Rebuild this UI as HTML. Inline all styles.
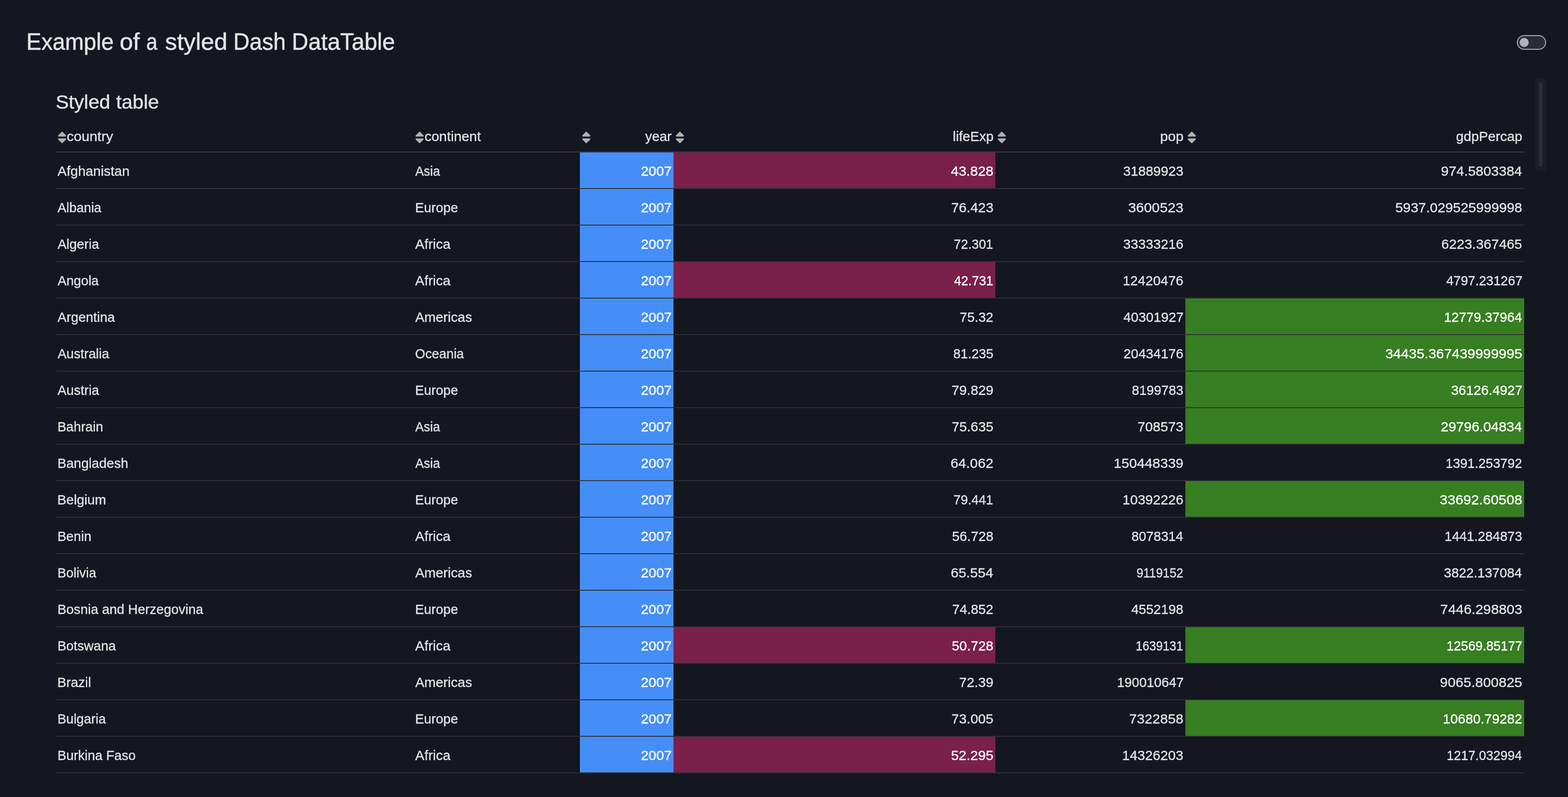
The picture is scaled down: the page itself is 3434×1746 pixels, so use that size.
<!DOCTYPE html>
<html lang="en">
<head>
<meta charset="utf-8">
<title>Example of a styled Dash DataTable</title>
<style>
html{font-size:calc(100vw / 34.34);}
html,body{margin:0;padding:0;}
body{width:34.34rem;height:17.46rem;overflow:hidden;background:#141720;color:#e3e3e4;
 font-family:"Liberation Sans",sans-serif;position:relative;-webkit-text-stroke:0.004rem;}
h1,h2{margin:0;font-weight:400;white-space:nowrap;position:absolute;left:0;width:12rem;}
h1{top:0.606rem;height:0.6rem;font-size:0.52rem;line-height:0.6rem;-webkit-text-stroke:0.006rem;}
h2{top:1.986rem;height:0.5rem;font-size:0.425rem;line-height:0.5rem;-webkit-text-stroke:0.005rem;}
span{position:absolute;top:0;white-space:pre;transform-origin:0 50%;}
.switch{position:absolute;left:33.22rem;top:0.77rem;width:0.64rem;height:0.32rem;box-sizing:border-box;border:0.02rem solid #b2b2b8;border-radius:0.16rem;background:#2b2d36;}
.switch i{position:absolute;left:0.04rem;top:0.04rem;width:0.2rem;height:0.2rem;border-radius:50%;background:#b0b1b5;}
.sbar{position:absolute;left:33.62rem;top:1.72rem;width:0.24rem;height:2.01rem;background:#1b1d27;}
.sbar i{position:absolute;left:0.08rem;top:0.08rem;width:0.08rem;height:1.85rem;background:#2c2e36;}
table,thead,tbody{display:block;margin:0;padding:0;border:0;}
table{font-size:0.3rem;}
tr{display:block;position:absolute;left:1.22rem;width:32.16rem;height:0.8rem;}
th,td{display:block;position:absolute;top:0;box-sizing:border-box;height:0.8rem;padding:0;border-bottom:0.02rem solid #2e3039;white-space:nowrap;font-weight:400;text-align:left;}
th{height:0.76rem;border-bottom-color:#393c46;}
th:nth-child(1),td:nth-child(1){left:0rem;width:7.833rem;}
th:nth-child(2),td:nth-child(2){left:7.833rem;width:3.647rem;}
th:nth-child(3),td:nth-child(3){left:11.48rem;width:2.05rem;}
th:nth-child(4),td:nth-child(4){left:13.53rem;width:7.05rem;}
th:nth-child(5),td:nth-child(5){left:20.58rem;width:4.16rem;}
th:nth-child(6),td:nth-child(6){left:24.74rem;width:7.42rem;}
td span{top:0.016rem;line-height:0.78rem;}
th span{top:0.036rem;line-height:0.74rem;}
td.b{background:#458ef7;color:#fff;}
td.m{background:#7a204a;color:#fff;}
td.g{background:#377e22;color:#fff;}
svg{position:absolute;left:0.04rem;top:0.2695rem;width:0.2rem;height:0.3243rem;fill:#b0b0b0;}

</style>
</head>
<body>
<h1><span style="left:0.57rem;transform:translateX(0.0087rem) scaleX(0.9449)">Example</span> <span style="left:2.62rem;transform:translateX(0.0003rem) scaleX(1.0138)">of</span> <span style="left:3.2rem;transform:translateX(0.0021rem) scaleX(0.8453)">a</span> <span style="left:3.61rem;transform:translateX(0.0062rem) scaleX(1.0053)">styled</span> <span style="left:5.1rem;transform:translateX(0.0092rem) scaleX(0.9478)">Dash</span> <span style="left:6.39rem;transform:translateX(0.0004rem) scaleX(0.9656)">DataTable</span></h1>
<div class="switch"><i></i></div>
<div class="sbar"><i></i></div>
<h2><span style="left:1.21rem;transform:translateX(0.009rem) scaleX(1.0126)">Styled</span> <span style="left:2.54rem;transform:translateX(0.0016rem) scaleX(1.0204)">table</span></h2>
<table>
<thead><tr style="top:2.58rem">
<th><svg viewBox="0 0 320 512" preserveAspectRatio="none"><path d="M41 288h238c21.4 0 32.1 25.9 17 41L177 448c-9.4 9.4-24.6 9.4-33.9 0L24 329c-15.1-15.1-4.4-41 17-41zm255-105L177 64c-9.4-9.4-24.6-9.4-33.9 0L24 183c-15.1 15.1-4.4 41 17 41h238c21.4 0 32.1-25.9 17-41z"/></svg><span style="left:0.24rem;transform:translateX(0.0012rem) scaleX(1.0330)">country</span></th>
<th><svg viewBox="0 0 320 512" preserveAspectRatio="none"><path d="M41 288h238c21.4 0 32.1 25.9 17 41L177 448c-9.4 9.4-24.6 9.4-33.9 0L24 329c-15.1-15.1-4.4-41 17-41zm255-105L177 64c-9.4-9.4-24.6-9.4-33.9 0L24 183c-15.1 15.1-4.4 41 17 41h238c21.4 0 32.1-25.9 17-41z"/></svg><span style="left:0.24rem;transform:translateX(0.0068rem) scaleX(1.0147)">continent</span></th>
<th><svg viewBox="0 0 320 512" preserveAspectRatio="none"><path d="M41 288h238c21.4 0 32.1 25.9 17 41L177 448c-9.4 9.4-24.6 9.4-33.9 0L24 329c-15.1-15.1-4.4-41 17-41zm255-105L177 64c-9.4-9.4-24.6-9.4-33.9 0L24 183c-15.1 15.1-4.4 41 17 41h238c21.4 0 32.1-25.9 17-41z"/></svg><span style="left:1.43rem;transform:translateX(0.0009rem) scaleX(0.9901)">year</span></th>
<th><svg viewBox="0 0 320 512" preserveAspectRatio="none"><path d="M41 288h238c21.4 0 32.1 25.9 17 41L177 448c-9.4 9.4-24.6 9.4-33.9 0L24 329c-15.1-15.1-4.4-41 17-41zm255-105L177 64c-9.4-9.4-24.6-9.4-33.9 0L24 183c-15.1 15.1-4.4 41 17 41h238c21.4 0 32.1-25.9 17-41z"/></svg><span style="left:6.11rem;transform:translateX(0.0087rem) scaleX(0.9897)">lifeExp</span></th>
<th><svg viewBox="0 0 320 512" preserveAspectRatio="none"><path d="M41 288h238c21.4 0 32.1 25.9 17 41L177 448c-9.4 9.4-24.6 9.4-33.9 0L24 329c-15.1-15.1-4.4-41 17-41zm255-105L177 64c-9.4-9.4-24.6-9.4-33.9 0L24 183c-15.1 15.1-4.4 41 17 41h238c21.4 0 32.1-25.9 17-41z"/></svg><span style="left:3.6rem;transform:translateX(0.0069rem) scaleX(1.0263)">pop</span></th>
<th><svg viewBox="0 0 320 512" preserveAspectRatio="none"><path d="M41 288h238c21.4 0 32.1 25.9 17 41L177 448c-9.4 9.4-24.6 9.4-33.9 0L24 329c-15.1-15.1-4.4-41 17-41zm255-105L177 64c-9.4-9.4-24.6-9.4-33.9 0L24 183c-15.1 15.1-4.4 41 17 41h238c21.4 0 32.1-25.9 17-41z"/></svg><span style="left:5.92rem;transform:translateX(0.0079rem) scaleX(1.0003)">gdpPercap</span></th>
</tr></thead>
<tbody>
<tr style="top:3.34rem">
<td><span style="left:0.04rem;transform:translateX(0.0012rem) scaleX(0.9948)">Afghanistan</span></td>
<td><span style="left:0.04rem;transform:translateX(0.0041rem) scaleX(0.9319)">Asia</span></td>
<td class="b"><span style="left:1.33rem;transform:translateX(0.0038rem) scaleX(1.0181)">2007</span></td>
<td class="m"><span style="left:6.07rem;transform:translateX(0.0043rem) scaleX(1.0167)">43.828</span></td>
<td><span style="left:2.79rem;transform:translateX(0.0065rem) scaleX(0.9898)">31889923</span></td>
<td><span style="left:5.59rem;transform:translateX(0.0075rem) scaleX(1.0132)">974.5803384</span></td>
</tr>
<tr style="top:4.14rem">
<td><span style="left:0.04rem;transform:translateX(0.0012rem) scaleX(0.9581)">Albania</span></td>
<td><span style="left:0.03rem;transform:translateX(0.0092rem) scaleX(0.9742)">Europe</span></td>
<td class="b"><span style="left:1.33rem;transform:translateX(0.0038rem) scaleX(1.0181)">2007</span></td>
<td><span style="left:6.08rem;transform:translateX(0.0014rem) scaleX(1.0092)">76.423</span></td>
<td><span style="left:2.9rem;transform:translateX(0.0064rem) scaleX(1.0377)">3600523</span></td>
<td><span style="left:4.59rem;transform:translateX(0.0078rem) scaleX(1.0096)">5937.029525999998</span></td>
</tr>
<tr style="top:4.94rem">
<td><span style="left:0.04rem;transform:translateX(0.0013rem) scaleX(0.9728)">Algeria</span></td>
<td><span style="left:0.04rem;transform:translateX(0.0037rem) scaleX(1.0083)">Africa</span></td>
<td class="b"><span style="left:1.33rem;transform:translateX(0.0038rem) scaleX(1.0181)">2007</span></td>
<td><span style="left:6.13rem;transform:translateX(0.0075rem) scaleX(0.9404)">72.301</span></td>
<td><span style="left:2.79rem;transform:translateX(0.0074rem) scaleX(0.9884)">33333216</span></td>
<td><span style="left:5.6rem;transform:translateX(0.0062rem) scaleX(1.0094)">6223.367465</span></td>
</tr>
<tr style="top:5.74rem">
<td><span style="left:0.04rem;transform:translateX(0.0013rem) scaleX(0.9641)">Angola</span></td>
<td><span style="left:0.04rem;transform:translateX(0.0037rem) scaleX(1.0083)">Africa</span></td>
<td class="b"><span style="left:1.33rem;transform:translateX(0.0038rem) scaleX(1.0181)">2007</span></td>
<td class="m"><span style="left:6.14rem;transform:translateX(0.0053rem) scaleX(0.9315)">42.731</span></td>
<td><span style="left:2.78rem;transform:translateX(0.0074rem) scaleX(0.9959)">12420476</span></td>
<td><span style="left:5.71rem;transform:translateX(0.004rem) scaleX(0.9528)">4797.231267</span></td>
</tr>
<tr style="top:6.54rem">
<td><span style="left:0.04rem;transform:translateX(0.0012rem) scaleX(0.9761)">Argentina</span></td>
<td><span style="left:0.04rem;transform:translateX(0.004rem) scaleX(0.9954)">Americas</span></td>
<td class="b"><span style="left:1.33rem;transform:translateX(0.0038rem) scaleX(1.0181)">2007</span></td>
<td><span style="left:6.26rem;transform:translateX(0.0085rem) scaleX(0.9801)">75.32</span></td>
<td><span style="left:2.8rem;transform:translateX(0.0019rem) scaleX(0.9904)">40301927</span></td>
<td class="g"><span style="left:5.66rem;transform:translateX(0.0053rem) scaleX(0.9742)">12779.37964</span></td>
</tr>
<tr style="top:7.34rem">
<td><span style="left:0.04rem;transform:translateX(0.0013rem) scaleX(0.9681)">Australia</span></td>
<td><span style="left:0.04rem;transform:translateX(0.0011rem) scaleX(0.9566)">Oceania</span></td>
<td class="b"><span style="left:1.33rem;transform:translateX(0.0038rem) scaleX(1.0181)">2007</span></td>
<td><span style="left:6.12rem;transform:translateX(0.0074rem) scaleX(0.9568)">81.235</span></td>
<td><span style="left:2.8rem;transform:translateX(0.0039rem) scaleX(0.9836)">20434176</span></td>
<td class="g"><span style="left:4.38rem;transform:translateX(0rem) scaleX(1.0262)">34435.367439999995</span></td>
</tr>
<tr style="top:8.14rem">
<td><span style="left:0.04rem;transform:translateX(0.0012rem) scaleX(0.9733)">Austria</span></td>
<td><span style="left:0.03rem;transform:translateX(0.0092rem) scaleX(0.9742)">Europe</span></td>
<td class="b"><span style="left:1.33rem;transform:translateX(0.0038rem) scaleX(1.0181)">2007</span></td>
<td><span style="left:6.08rem;transform:translateX(0.0093rem) scaleX(1.0015)">79.829</span></td>
<td><span style="left:2.98rem;transform:translateX(0.0076rem) scaleX(0.9672)">8199783</span></td>
<td class="g"><span style="left:5.81rem;transform:translateX(0.0091rem) scaleX(0.9862)">36126.4927</span></td>
</tr>
<tr style="top:8.94rem">
<td><span style="left:0.03rem;transform:translateX(0.0071rem) scaleX(0.9689)">Bahrain</span></td>
<td><span style="left:0.04rem;transform:translateX(0.0041rem) scaleX(0.9319)">Asia</span></td>
<td class="b"><span style="left:1.33rem;transform:translateX(0.0038rem) scaleX(1.0181)">2007</span></td>
<td><span style="left:6.09rem;transform:translateX(0.0044rem) scaleX(0.9928)">75.635</span></td>
<td><span style="left:3.11rem;transform:translateX(0.0024rem) scaleX(1.0033)">708573</span></td>
<td class="g"><span style="left:5.59rem;transform:translateX(0.002rem) scaleX(1.0165)">29796.04834</span></td>
</tr>
<tr style="top:9.74rem">
<td><span style="left:0.03rem;transform:translateX(0.0065rem) scaleX(0.9801)">Bangladesh</span></td>
<td><span style="left:0.04rem;transform:translateX(0.0041rem) scaleX(0.9319)">Asia</span></td>
<td class="b"><span style="left:1.33rem;transform:translateX(0.0038rem) scaleX(1.0181)">2007</span></td>
<td><span style="left:6.06rem;transform:translateX(0.0069rem) scaleX(1.0223)">64.062</span></td>
<td><span style="left:2.59rem;transform:translateX(0.0004rem) scaleX(1.0175)">150448339</span></td>
<td><span style="left:5.69rem;transform:translateX(0.0092rem) scaleX(0.9565)">1391.253792</span></td>
</tr>
<tr style="top:10.54rem">
<td><span style="left:0.03rem;transform:translateX(0.0057rem) scaleX(0.9841)">Belgium</span></td>
<td><span style="left:0.03rem;transform:translateX(0.0092rem) scaleX(0.9742)">Europe</span></td>
<td class="b"><span style="left:1.33rem;transform:translateX(0.0038rem) scaleX(1.0181)">2007</span></td>
<td><span style="left:6.13rem;transform:translateX(0.0012rem) scaleX(0.9472)">79.441</span></td>
<td><span style="left:2.78rem;transform:translateX(0.0032rem) scaleX(0.9992)">10392226</span></td>
<td class="g"><span style="left:5.57rem;transform:translateX(0.0007rem) scaleX(1.0313)">33692.60508</span></td>
</tr>
<tr style="top:11.34rem">
<td><span style="left:0.03rem;transform:translateX(0.0064rem) scaleX(0.9722)">Benin</span></td>
<td><span style="left:0.04rem;transform:translateX(0.0037rem) scaleX(1.0083)">Africa</span></td>
<td class="b"><span style="left:1.33rem;transform:translateX(0.0038rem) scaleX(1.0181)">2007</span></td>
<td><span style="left:6.1rem;transform:translateX(0.0003rem) scaleX(0.9872)">56.728</span></td>
<td><span style="left:2.97rem;transform:translateX(0.0088rem) scaleX(0.9704)">8078314</span></td>
<td><span style="left:5.67rem;transform:translateX(0.0083rem) scaleX(0.9695)">1441.284873</span></td>
</tr>
<tr style="top:12.14rem">
<td><span style="left:0.03rem;transform:translateX(0.0079rem) scaleX(0.9607)">Bolivia</span></td>
<td><span style="left:0.04rem;transform:translateX(0.004rem) scaleX(0.9954)">Americas</span></td>
<td class="b"><span style="left:1.33rem;transform:translateX(0.0038rem) scaleX(1.0181)">2007</span></td>
<td><span style="left:6.07rem;transform:translateX(0.0024rem) scaleX(1.0141)">65.554</span></td>
<td><span style="left:3.08rem;transform:translateX(0.0095rem) scaleX(0.8935)">9119152</span></td>
<td><span style="left:5.66rem;transform:translateX(0.0037rem) scaleX(0.9748)">3822.137084</span></td>
</tr>
<tr style="top:12.94rem">
<td><span style="left:0.03rem;transform:translateX(0.0069rem) scaleX(0.9770)">Bosnia and Herzegovina</span></td>
<td><span style="left:0.03rem;transform:translateX(0.0092rem) scaleX(0.9742)">Europe</span></td>
<td class="b"><span style="left:1.33rem;transform:translateX(0.0038rem) scaleX(1.0181)">2007</span></td>
<td><span style="left:6.1rem;transform:translateX(0.0029rem) scaleX(0.9817)">74.852</span></td>
<td><span style="left:2.97rem;transform:translateX(0.0038rem) scaleX(0.9787)">4552198</span></td>
<td><span style="left:5.58rem;transform:translateX(0.0037rem) scaleX(1.0242)">7446.298803</span></td>
</tr>
<tr style="top:13.74rem">
<td><span style="left:0.03rem;transform:translateX(0.0068rem) scaleX(0.9709)">Botswana</span></td>
<td><span style="left:0.04rem;transform:translateX(0.0037rem) scaleX(1.0083)">Africa</span></td>
<td class="b"><span style="left:1.33rem;transform:translateX(0.0038rem) scaleX(1.0181)">2007</span></td>
<td class="m"><span style="left:6.09rem;transform:translateX(0.0052rem) scaleX(0.9934)">50.728</span></td>
<td><span style="left:3.07rem;transform:translateX(0.0035rem) scaleX(0.8868)">1639131</span></td>
<td class="g"><span style="left:5.71rem;transform:translateX(0.009rem) scaleX(0.9488)">12569.85177</span></td>
</tr>
<tr style="top:14.54rem">
<td><span style="left:0.03rem;transform:translateX(0.0055rem) scaleX(0.9851)">Brazil</span></td>
<td><span style="left:0.04rem;transform:translateX(0.004rem) scaleX(0.9954)">Americas</span></td>
<td class="b"><span style="left:1.33rem;transform:translateX(0.0038rem) scaleX(1.0181)">2007</span></td>
<td><span style="left:6.25rem;transform:translateX(0.0062rem) scaleX(1.0008)">72.39</span></td>
<td><span style="left:2.66rem;transform:translateX(0.0013rem) scaleX(0.9740)">190010647</span></td>
<td><span style="left:5.57rem;transform:translateX(0.0047rem) scaleX(1.0290)">9065.800825</span></td>
</tr>
<tr style="top:15.34rem">
<td><span style="left:0.03rem;transform:translateX(0.0077rem) scaleX(0.9636)">Bulgaria</span></td>
<td><span style="left:0.03rem;transform:translateX(0.0092rem) scaleX(0.9742)">Europe</span></td>
<td class="b"><span style="left:1.33rem;transform:translateX(0.0038rem) scaleX(1.0181)">2007</span></td>
<td><span style="left:6.08rem;transform:translateX(0.0057rem) scaleX(1.0028)">73.005</span></td>
<td><span style="left:2.92rem;transform:translateX(0.0085rem) scaleX(1.0172)">7322858</span></td>
<td class="g"><span style="left:5.63rem;transform:translateX(0.0067rem) scaleX(0.9934)">10680.79282</span></td>
</tr>
<tr style="top:16.14rem">
<td><span style="left:0.03rem;transform:translateX(0.007rem) scaleX(0.9708)">Burkina Faso</span></td>
<td><span style="left:0.04rem;transform:translateX(0.0037rem) scaleX(1.0083)">Africa</span></td>
<td class="b"><span style="left:1.33rem;transform:translateX(0.0038rem) scaleX(1.0181)">2007</span></td>
<td class="m"><span style="left:6.07rem;transform:translateX(0.0069rem) scaleX(1.0137)">52.295</span></td>
<td><span style="left:2.77rem;transform:translateX(0.0038rem) scaleX(1.0057)">14326203</span></td>
<td><span style="left:5.72rem;transform:translateX(0.0034rem) scaleX(0.9407)">1217.032994</span></td>
</tr>
</tbody></table>
</body>
</html>
